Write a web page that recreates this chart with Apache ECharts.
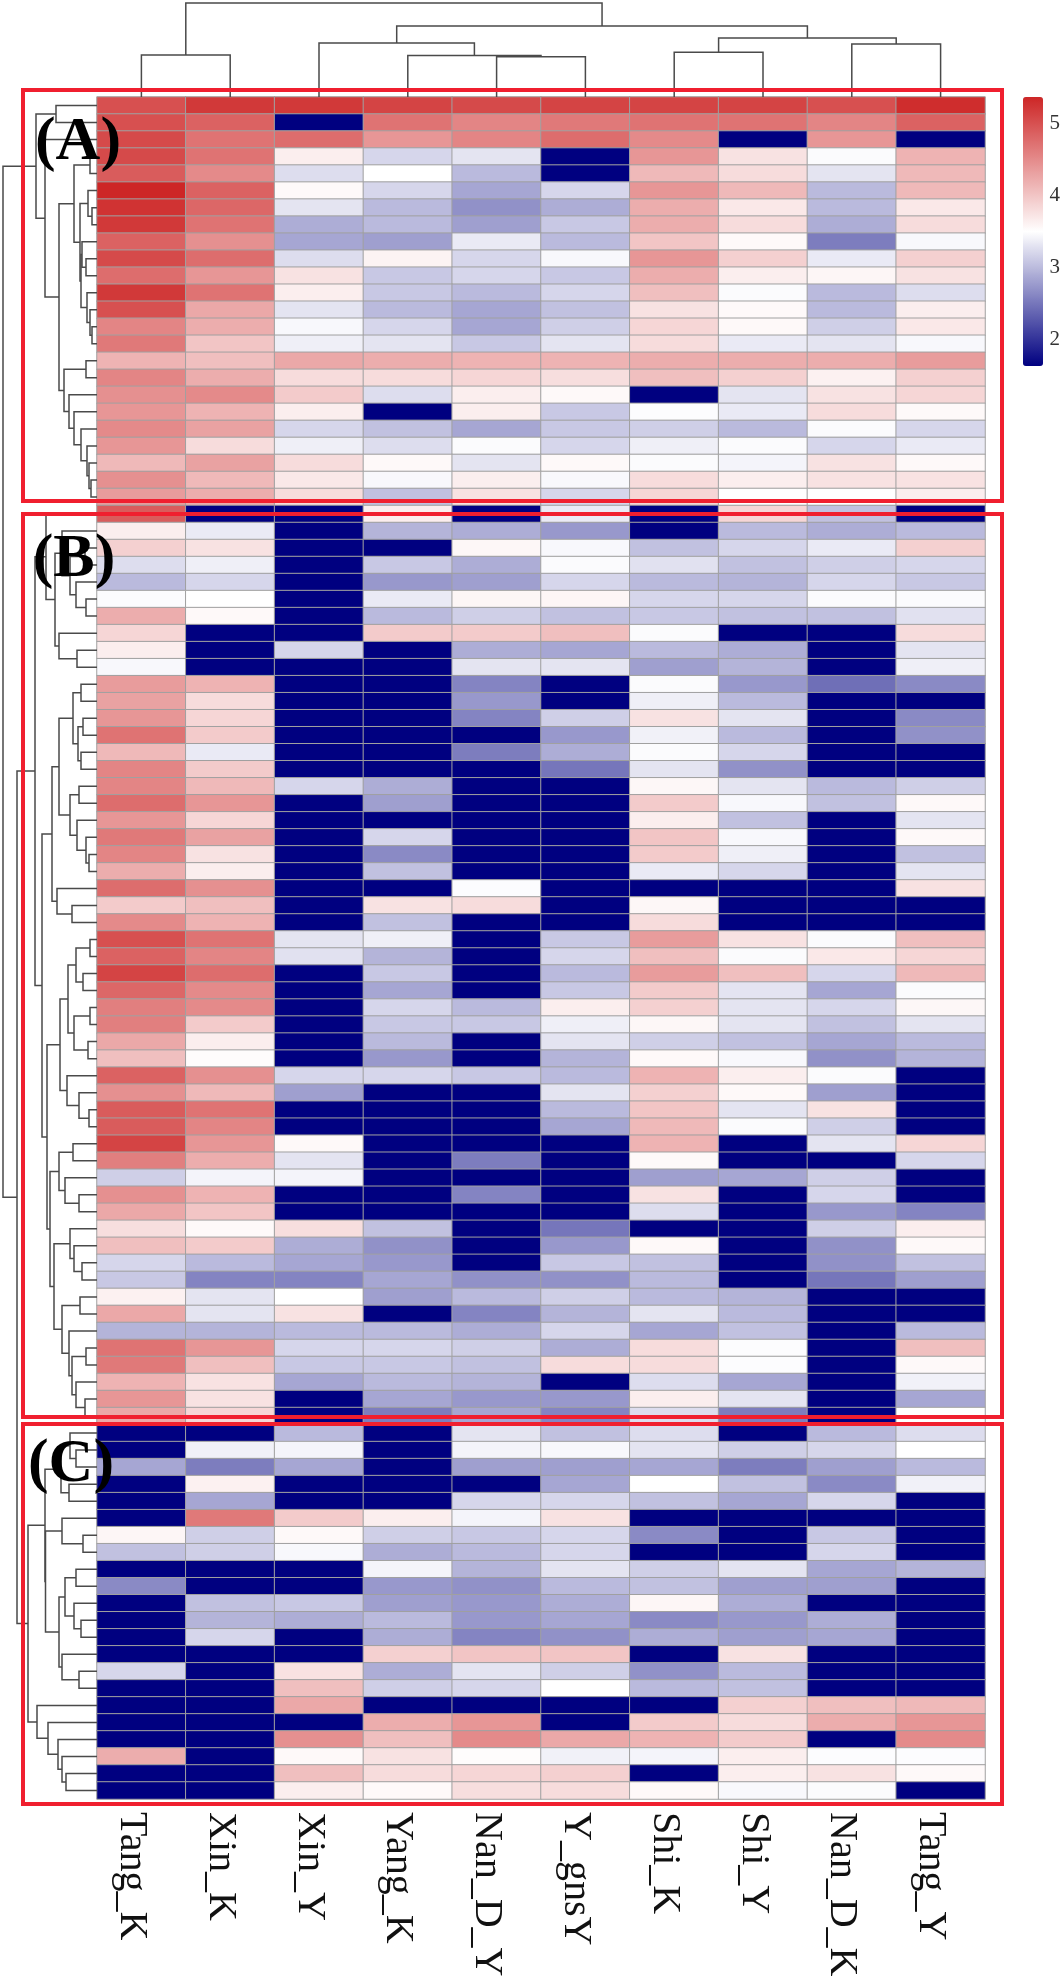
<!DOCTYPE html>
<html>
<head>
<meta charset="utf-8">
<script src="https://cdn.jsdelivr.net/npm/echarts@6/dist/echarts.min.js"></script>
<style>
html, body { margin: 0; padding: 0; background: #fff; }
#main { width: 1063px; height: 1983px; }
</style>
</head>
<body>
<div id="main"></div>
<script>
// L marks the navy cells at the bottom of the colour scale
var L = 1.64;
var H = 5.36;
var columns = ['Tang_K', 'Xin_K', 'Xin_Y', 'Yang_K', 'Nan_D_Y', 'Y_gnsY', 'Shi_K', 'Shi_Y', 'Nan_D_K', 'Tang_Y'];
var legendTicks = [2, 3, 4, 5];

var groupA = [
    [5.0, 5.2, 5.2, 5.1, 5.05, 5.1, 5.1, 5.1, 5.0, 5.3],
    [5.0, 4.85, L, 4.7, 4.55, 4.65, 4.7, 4.7, 4.55, 4.85],
    [5.05, 4.7, 4.75, 4.4, 4.55, 4.75, 4.5, L, 4.4, L],
    [5.05, 4.7, 3.65, 3.2, 3.3, L, 4.4, 3.75, 3.47, 4.15],
    [4.9, 4.5, 3.25, 3.5, 3.0, L, 4.1, 3.8, 3.3, 4.1],
    [5.36, 4.85, 3.55, 3.2, 2.85, 3.2, 4.4, 4.1, 3.0, 4.1],
    [5.25, 4.8, 3.3, 3.0, 2.7, 2.9, 4.2, 3.7, 3.0, 3.7],
    [5.2, 4.7, 2.9, 3.0, 2.8, 3.1, 4.2, 3.8, 2.9, 3.8],
    [4.85, 4.45, 2.85, 2.8, 3.35, 3.0, 4.0, 3.55, 2.55, 3.45],
    [5.05, 4.75, 3.25, 3.6, 3.2, 3.45, 4.4, 3.9, 3.35, 3.9],
    [4.75, 4.4, 3.75, 3.1, 3.2, 3.1, 4.2, 3.65, 3.58, 3.75],
    [5.2, 4.7, 3.65, 3.1, 3.0, 3.2, 4.05, 3.47, 3.0, 3.25],
    [5.0, 4.25, 3.3, 3.0, 2.85, 3.05, 3.75, 3.55, 3.0, 3.65],
    [4.55, 4.2, 3.45, 3.2, 2.85, 3.15, 3.85, 3.55, 3.15, 3.7],
    [4.65, 4.0, 3.38, 3.3, 3.1, 3.3, 3.8, 3.35, 3.3, 3.45],
    [4.15, 4.05, 4.25, 4.2, 4.15, 4.15, 4.2, 4.2, 4.2, 4.35],
    [4.55, 4.2, 3.8, 3.8, 3.85, 3.78, 4.05, 3.9, 3.62, 3.9],
    [4.45, 4.5, 3.95, 3.25, 3.65, 3.55, L, 3.3, 3.75, 3.85],
    [4.4, 4.15, 3.65, L, 3.65, 3.1, 3.48, 3.35, 3.8, 3.55],
    [4.5, 4.3, 3.2, 3.05, 2.85, 3.1, 3.15, 3.0, 3.47, 3.2],
    [4.4, 3.8, 3.38, 3.25, 3.47, 3.2, 3.38, 3.47, 3.2, 3.35],
    [4.1, 4.3, 3.8, 3.55, 3.3, 3.55, 3.47, 3.42, 3.75, 3.55],
    [4.45, 4.1, 3.7, 3.45, 3.65, 3.45, 3.8, 3.65, 3.75, 3.75],
    [4.35, 4.2, 3.8, 3.05, 3.75, 3.2, 3.85, 3.5, 3.5, 3.65]
];

var groupB = [
    [4.9, L, L, 3.65, L, 3.35, L, 3.85, 3.05, L],
    [3.65, 3.35, L, 2.95, 2.9, 2.75, L, 3.0, 2.9, 3.0],
    [3.9, 3.75, L, L, 3.57, 3.45, 3.05, 3.2, 3.35, 3.9],
    [3.25, 3.38, L, 3.1, 2.9, 3.47, 3.28, 3.05, 3.15, 3.2],
    [3.0, 3.2, L, 2.75, 2.8, 3.2, 3.0, 2.95, 3.2, 3.1],
    [3.47, 3.5, L, 3.35, 3.58, 3.58, 3.2, 3.2, 3.47, 3.47],
    [4.2, 3.55, L, 3.0, 3.15, 3.05, 3.1, 3.05, 3.05, 3.28],
    [3.85, L, L, 3.95, 3.95, 4.05, 3.47, L, L, 3.8],
    [3.65, L, 3.2, L, 2.9, 2.85, 3.0, 2.9, L, 3.3],
    [3.45, L, L, L, 3.3, 3.3, 2.8, 2.95, L, 3.38],
    [4.35, 4.15, L, L, 2.6, L, 3.47, 2.75, 2.45, 2.65],
    [4.3, 3.8, L, L, 2.75, L, 3.38, 3.0, L, L],
    [4.4, 3.85, L, L, 2.6, 3.15, 3.75, 3.3, L, 2.65],
    [4.7, 3.95, L, L, L, 2.75, 3.4, 3.0, L, 2.7],
    [4.1, 3.35, L, L, 2.55, 2.9, 3.47, 3.2, L, L],
    [4.55, 3.95, L, L, L, 2.5, 3.3, 2.7, L, L],
    [4.55, 4.1, 3.2, 2.9, L, L, 3.57, 3.3, 3.0, 3.15],
    [4.75, 4.4, L, 2.8, L, L, 3.95, 3.45, 3.05, 3.55],
    [4.4, 3.85, L, L, L, L, 3.65, 3.05, L, 3.3],
    [4.65, 4.3, L, 3.2, L, L, 4.0, 3.45, L, 3.55],
    [4.55, 3.75, L, 2.65, L, L, 3.95, 3.38, L, 3.05],
    [4.2, 3.65, L, 3.05, L, L, 3.35, 3.2, L, 3.3],
    [4.75, 4.45, L, L, 3.48, L, L, L, L, 3.75],
    [3.95, 4.05, L, 3.75, 3.8, L, 3.57, L, L, L],
    [4.5, 4.15, L, 3.05, L, L, 3.8, L, L, L],
    [5.0, 4.7, 3.3, 3.38, L, 3.1, 4.35, 3.75, 3.47, 4.05],
    [4.85, 4.55, 3.28, 2.95, L, 3.2, 4.05, 3.47, 3.7, 3.85],
    [5.1, 4.75, L, 3.1, L, 3.0, 4.35, 4.05, 3.2, 4.1],
    [4.8, 4.5, L, 2.85, L, 3.1, 3.95, 3.3, 2.85, 3.47],
    [4.6, 4.5, L, 3.2, 3.0, 3.65, 3.9, 3.3, 3.2, 3.57],
    [4.6, 3.95, L, 3.1, 3.1, 3.38, 3.57, 3.3, 3.05, 3.3],
    [4.25, 3.65, L, 3.0, L, 3.3, 3.15, 3.05, 2.85, 3.0],
    [4.05, 3.53, L, 2.75, L, 2.95, 3.55, 3.45, 2.7, 2.95],
    [4.85, 4.45, 3.2, 3.2, 3.1, 3.0, 4.15, 3.65, 3.47, L],
    [4.45, 4.1, 2.8, L, L, 3.3, 3.9, 3.55, 2.8, L],
    [4.9, 4.7, L, L, L, 3.0, 4.0, 3.3, 3.75, L],
    [4.9, 4.55, L, L, L, 2.85, 4.1, 3.47, 3.15, L],
    [5.1, 4.4, 3.55, L, L, L, 4.15, L, 3.3, 3.85],
    [4.6, 4.2, 3.3, L, 2.55, L, 3.55, L, L, 3.2],
    [3.15, 3.42, 3.42, L, L, L, 2.8, 2.85, 3.15, L],
    [4.45, 4.15, L, L, 2.6, L, 3.75, L, 3.2, L],
    [4.25, 4.0, L, L, L, L, 3.25, L, 2.75, 2.6],
    [3.78, 3.55, 3.78, 3.05, L, 2.5, L, L, 3.15, 3.65],
    [4.05, 3.95, 2.9, 2.7, L, 2.75, 3.55, L, 2.7, 3.55],
    [3.2, 3.0, 2.85, 2.75, L, 3.1, 3.05, L, 2.7, 3.05],
    [3.1, 2.6, 2.6, 2.85, 2.7, 2.7, 3.0, L, 2.5, 2.8],
    [3.62, 3.3, 3.5, 2.8, 3.0, 3.15, 3.0, 2.95, L, L],
    [4.25, 3.3, 3.75, L, 2.6, 2.95, 3.3, 3.0, L, L],
    [2.95, 2.95, 3.0, 3.0, 2.9, 3.2, 2.85, 3.05, L, 3.0],
    [4.7, 4.4, 3.2, 3.2, 3.15, 2.9, 3.8, 3.48, L, 4.05],
    [4.65, 4.05, 3.1, 3.1, 3.05, 3.8, 3.8, 3.48, L, 3.55],
    [4.15, 3.75, 2.85, 3.0, 2.95, L, 3.25, 2.85, L, 3.4],
    [4.4, 3.75, L, 2.85, 2.75, 2.75, 3.65, 3.3, L, 2.85],
    [4.25, 3.85, L, 2.55, 2.85, 2.6, 3.25, 2.55, L, 3.5]
];

var groupC = [
    [L, L, 3.0, L, 3.3, 3.05, 3.25, L, 3.0, 3.25],
    [L, 3.4, 3.42, L, 3.42, 3.45, 3.3, 3.15, 3.2, 3.5],
    [2.85, 2.55, 2.85, L, 2.8, 2.8, 2.85, 2.55, 2.8, 3.0],
    [L, 3.62, L, L, L, 2.85, 3.5, 3.05, 2.65, 3.4],
    [L, 2.85, L, L, 3.2, 3.2, 3.05, 2.85, 3.2, L],
    [L, 4.65, 3.95, 3.65, 3.42, 3.75, L, L, L, L],
    [3.58, 3.15, 3.55, 3.15, 3.1, 3.2, 2.65, L, 3.1, L],
    [3.05, 3.15, 3.45, 2.9, 3.0, 3.2, L, L, 3.2, L],
    [L, L, L, 3.42, 2.95, 3.3, 3.15, 3.3, 2.85, 2.95],
    [2.65, L, L, 2.75, 2.7, 3.0, 3.05, 2.8, 2.8, L],
    [L, 3.05, 3.1, 2.8, 2.75, 2.9, 3.58, 2.9, L, L],
    [L, 2.95, 2.9, 3.0, 2.75, 2.85, 2.65, 2.75, 2.9, L],
    [L, 3.2, L, 2.9, 2.6, 2.7, 2.9, 2.8, 2.85, L],
    [L, L, L, 3.9, 4.0, 4.0, L, 3.75, L, L],
    [3.2, L, 3.75, 2.9, 3.3, 3.15, 2.7, 3.0, L, L],
    [L, L, 4.05, 3.15, 3.2, 3.5, 3.0, 3.05, L, L],
    [L, L, 4.25, L, L, L, L, 3.9, 4.05, 4.1],
    [L, L, L, 4.2, 4.4, L, 3.95, 3.8, 4.2, 4.4],
    [L, L, 4.45, 4.05, 4.5, 4.25, 4.15, 3.95, L, 4.5],
    [4.2, L, 3.55, 3.75, 3.53, 3.4, 3.42, 3.65, 3.48, 3.48],
    [L, L, 4.05, 3.8, 3.85, 3.9, L, 3.65, 3.75, 3.55],
    [L, L, 3.65, 3.55, 3.78, 3.8, 3.55, 3.45, 3.47, L]
];

// dendrograms: [merge height, child, child], a plain number is a leaf (1-based)
var colTree = [94, [42, 1, 2], [71, [54, 3, [41.5, 4, [40.3, 5, 6]]], [59, [44.7, 7, 8], [53, 9, 10]]]];

var treeA = [61, [41, 1, 2], [52, 3, [38,
    [23, [7, 4, 5], [17, [9, 6, [5, 7, 8]], [16, [15, 9, [11, 10, 11]], [10, 12, [7, 13, [5, 14, 15]]]]]],
    [33, [11, 16, 17], [28, 18, [23, 19, [16, 20, [10, 21, [8, 22, [6, 23, 24]]]]]]]
]]];

var treeB = [62,
    [51, 25, [42,
        [35, 26, [27, [12, 27, 28], [21, 29, [11, 30, 31]]]],
        [38, 32, [20, 33, 34]]
    ]],
    [55,
        [45,
            [38,
                [24, [16, 35, 36], [19, [14, 37, 38], [16, 39, 40]]],
                [27, [18, 41, 42], [20, 43, [11, 44, [8, 45, 46]]]]
            ],
            [40, 47, [25, 48, 49]]
        ],
        [50,
            [37,
                [29, [21, [7, 50, 51], [14, 52, 53]], [23, [7, 54, 55], [9, 56, 57]]],
                [30, 58, [18, 59, [8, 60, 61]]]
            ],
            [47,
                [38, [24, 62, 63], [32, 64, [18, 65, 66]]],
                [43,
                    [27, 67, [23, 68, [15, 69, 70]]],
                    [35, [17, 71, 72], [28, 73, [25, [11, 74, 75], [21, 76, [12, 77, 78]]]]]
                ]
            ]
        ]
    ]
];

var treeC = [69,
    [52,
        [36, [27, 79, [21, 80, 81]], [28, 82, 83]],
        [51.5,
            [35, 84, [14, 85, 86]],
            [38,
                [32, [21, 87, 88], [23, 89, [16, 90, 91]]],
                [35, 92, [18, 93, 94]]
            ]
        ]
    ],
    [60, 95, [49, 96, [39, 97, [35, 98, [31, 99, 100]]]]]
];

var rowTree = [94, treeA, [80, treeB, treeC]];

var rowValues = groupA.concat(groupB, groupC);

var cells = [];
rowValues.forEach(function (row, r) {
    row.forEach(function (v, c) {
        cells.push([c, r, v]);
    });
});

// walk a tree, every merge becomes one [posA, heightA, posB, heightB, height]
function collectMerges(node, out) {
    if (typeof node === 'number') {
        return { pos: node - 0.5, h: 0 };
    }
    var a = collectMerges(node[1], out);
    var b = collectMerges(node[2], out);
    out.push([a.pos, a.h, b.pos, b.h, node[0]]);
    return { pos: (a.pos + b.pos) / 2, h: node[0] };
}

var colMerges = [];
var rowMerges = [];
collectMerges(colTree, colMerges);
collectMerges(rowTree, rowMerges);

function treeSeries(merges, axisIndex, horizontal) {
    return {
        type: 'custom',
        xAxisIndex: axisIndex,
        yAxisIndex: axisIndex,
        silent: true,
        clip: false,
        data: merges,
        renderItem: function (params, api) {
            var pts = [
                [api.value(0), api.value(1)],
                [api.value(0), api.value(4)],
                [api.value(2), api.value(4)],
                [api.value(2), api.value(3)]
            ].map(function (p) {
                return api.coord(horizontal ? [p[1], p[0]] : p);
            });
            return {
                type: 'polyline',
                shape: { points: pts },
                style: { stroke: '#4a4a4a', fill: null, lineWidth: 1.5 }
            };
        }
    };
}

function box(top, bottom) {
    return {
        type: 'rect',
        z: 100,
        shape: { x: 23, y: top, width: 979, height: bottom - top },
        style: { stroke: '#f01f2f', fill: null, lineWidth: 4 }
    };
}

function panelLabel(text, x, y) {
    return {
        type: 'text',
        z: 110,
        x: x,
        y: y,
        style: {
            text: text,
            font: 'bold 62px "Liberation Serif"',
            fill: '#000',
            align: 'center',
            verticalAlign: 'middle'
        }
    };
}

var option = {
    animation: false,
    backgroundColor: '#fff',
    grid: [
        { left: 97, top: 97, width: 888, height: 1702 },
        { left: 97, top: 0, width: 888, height: 97 },
        { left: 0, top: 97, width: 97, height: 1702 },
        { left: 1023, top: 97, width: 20, height: 269 }
    ],
    xAxis: [
        {
            type: 'category',
            gridIndex: 0,
            data: columns,
            axisLine: { show: false },
            axisTick: { show: false },
            splitLine: { show: false },
            axisLabel: {
                interval: 0,
                rotate: -90,
                margin: 13,
                fontSize: 40,
                fontFamily: 'Liberation Serif',
                color: '#111',
                // top-anchored so the rotated text sits left of the column centre, as in the figure
                align: 'left',
                verticalAlign: 'top',
                lineHeight: 20
            }
        },
        { type: 'value', gridIndex: 1, min: 0, max: columns.length, show: false },
        { type: 'value', gridIndex: 2, min: 0, max: 97, inverse: true, show: false },
        { type: 'category', gridIndex: 3, data: [''], show: false }
    ],
    yAxis: [
        {
            type: 'category',
            gridIndex: 0,
            inverse: true,
            data: rowValues.map(function (r, i) { return i + 1; }),
            show: false
        },
        { type: 'value', gridIndex: 1, min: 0, max: 97, show: false },
        { type: 'value', gridIndex: 2, min: 0, max: rowValues.length, inverse: true, show: false },
        {
            type: 'value',
            gridIndex: 3,
            position: 'right',
            min: L,
            max: H,
            axisLine: { show: false },
            axisTick: { show: false },
            splitLine: { show: false },
            axisLabel: {
                customValues: legendTicks,
                margin: 11,
                fontSize: 21,
                fontFamily: 'Liberation Serif',
                color: '#333'
            }
        }
    ],
    visualMap: {
        type: 'continuous',
        seriesIndex: 0,
        min: L,
        max: H,
        left: 1023,
        top: 97,
        padding: 0,
        itemWidth: 20,
        itemHeight: 269,
        calculable: false,
        hoverLink: false,
        text: null,
        inRange: { color: ['#000080', '#ffffff', '#cd2626'] }
    },
    series: [
        {
            type: 'heatmap',
            xAxisIndex: 0,
            yAxisIndex: 0,
            data: cells,
            silent: true,
            progressive: 0,
            itemStyle: { borderColor: '#a0a0a0', borderWidth: 1 }
        },
        treeSeries(colMerges, 1, false),
        treeSeries(rowMerges, 2, true)
    ],
    graphic: [
        box(90, 501),
        box(514, 1417),
        box(1424, 1804),
        panelLabel('(A)', 78, 143),
        panelLabel('(B)', 74, 560),
        panelLabel('(C)', 71, 1465)
    ]
};

var chart = echarts.init(document.getElementById('main'));
chart.setOption(option);
</script>
</body>
</html>
